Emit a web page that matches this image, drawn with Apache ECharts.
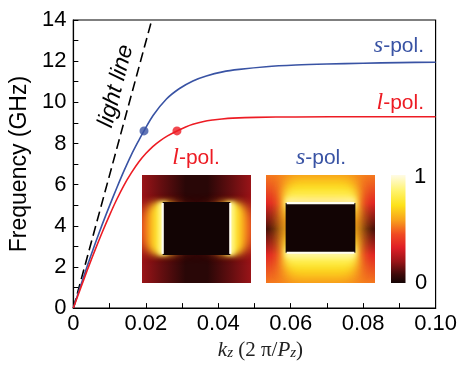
<!DOCTYPE html>
<html><head><meta charset="utf-8">
<script src="https://cdn.jsdelivr.net/npm/echarts@6/dist/echarts.min.js"></script>
<style>html,body{margin:0;padding:0;background:#fff}#c{width:460px;height:366px}</style>
</head><body><div id="c"></div>
<script>
// ---- data ----
const kzTicks = [0, 0.02, 0.04, 0.06, 0.08, 0.10];
const freqTicks = [0, 2, 4, 6, 8, 10, 12, 14];
const lightKz = [0, 0.02164];
const lightFreq = [0, 14];
const sPolKz = [0, 0.002, 0.004, 0.006, 0.008, 0.010, 0.012, 0.014, 0.016, 0.018, 0.0195, 0.022, 0.0257, 0.0293, 0.033, 0.0367, 0.0412, 0.0458, 0.0532, 0.0614, 0.07, 0.08, 0.09, 0.1];
const sPolFreq = [0, 1.09, 2.13, 3.13, 4.08, 4.98, 5.85, 6.68, 7.45, 8.13, 8.61, 9.36, 10.16, 10.67, 11.04, 11.28, 11.48, 11.6, 11.73, 11.81, 11.86, 11.9, 11.93, 11.95];
const lPolKz = [0, 0.002, 0.004, 0.006, 0.008, 0.010, 0.012, 0.014, 0.016, 0.018, 0.020, 0.022, 0.024, 0.026, 0.0286, 0.031, 0.033, 0.036, 0.0385, 0.041, 0.044, 0.0504, 0.0614, 0.08, 0.1];
const lPolFreq = [0, 0.97, 1.92, 2.83, 3.70, 4.52, 5.29, 5.98, 6.57, 7.09, 7.51, 7.86, 8.14, 8.37, 8.61, 8.80, 8.93, 9.07, 9.14, 9.19, 9.23, 9.27, 9.29, 9.30, 9.30];
const markerKz = [0.0195, 0.0286];
const markerFreq = [8.61, 8.61];
const colorbarLabels = ['1', '0'];
// conductor outlines inside the two field maps (normalized x0,y0,x1,y1)
const lPolConductor = [0.19, 0.25, 0.81, 0.74];
const sPolConductor = [0.18, 0.26, 0.82, 0.72];

// ---- style ----
const BLUE = '#3953a4', RED = '#ed1c24';
const HOT = [[0,'#140404'],[0.08,'#3e0a0a'],[0.2,'#9a1418'],[0.33,'#e01f26'],[0.45,'#f04a22'],[0.58,'#f8a01c'],[0.72,'#fde21a'],[0.85,'#fff36a'],[1,'#fffbe6']];
function hx(c){return [parseInt(c.slice(1,3),16),parseInt(c.slice(3,5),16),parseInt(c.slice(5,7),16)];}
function hot(v){
  v = Math.max(0, Math.min(1, v));
  for (let i = 1; i < HOT.length; i++) {
    if (v <= HOT[i][0]) {
      const a = HOT[i-1], b = HOT[i], t = (v - a[0]) / (b[0] - a[0]);
      const ca = hx(a[1]), cb = hx(b[1]);
      return 'rgb(' + ca.map((x, k) => Math.round(x + (cb[k] - x) * t)).join(',') + ')';
    }
  }
  return HOT[HOT.length-1][1];
}
function grad(x, y, x2, y2, stops){
  return {type:'linear', x, y, x2, y2, colorStops: stops.map(s => ({offset:s[0], color:hot(s[1])}))};
}
const OFF = 3000;
function glow(x1, y1, x2, y2, v, w, blur){
  return {type:'line', shape:{x1:x1+OFF, y1, x2:x2+OFF, y2},
    style:{stroke:hot(v), lineWidth:w, lineCap:'butt', shadowBlur:blur, shadowColor:hot(v), shadowOffsetX:-OFF}};
}
function renderL(params){
  const cs = params.coordSys;
  const X = u => cs.x + u * cs.width, Y = v => cs.y + v * cs.height;
  const c = lPolConductor;
  const ch = [{type:'rect', shape:{x:cs.x, y:cs.y, width:cs.width, height:cs.height},
    style:{fill:grad(0,0,1,0,[[0,0.2],[0.18,0.13],[0.4,0.04],[0.6,0.04],[0.82,0.13],[1,0.2]])}}];
  const layers = [[0.36,58,20,14],[0.5,42,14,8],[0.63,30,10,4],[0.76,18,7,1],[0.9,8,4,0]];
  [c[0], c[2]].forEach(fx => layers.forEach(L =>
    ch.push(glow(X(fx), Y(c[1]) + L[3], X(fx), Y(c[3]) - L[3], L[0], L[1], L[2]))));
  ch.push({type:'rect', shape:{x:X(c[0]), y:Y(c[1]), width:X(c[2])-X(c[0]), height:Y(c[3])-Y(c[1])}, style:{fill:'#120404'}});
  [c[0], c[2]].forEach(fx => ch.push({type:'line', shape:{x1:X(fx), y1:Y(c[1])+1, x2:X(fx), y2:Y(c[3])-1}, style:{stroke:'#fffdf0', lineWidth:2.2}}));
  return {type:'group', children:ch};
}
function renderS(params){
  const cs = params.coordSys;
  const X = u => cs.x + u * cs.width, Y = v => cs.y + v * cs.height;
  const c = sPolConductor;
  const ch = [{type:'rect', shape:{x:cs.x, y:cs.y, width:cs.width, height:cs.height},
    style:{fill:grad(0,0,0,1,[[0,0.52],[0.26,0.34],[0.5,0.08],[0.74,0.34],[1,0.52]])}}];
  const layers = [[0.55,76,22,0],[0.65,56,16,0],[0.74,38,12,0],[0.84,21,8,0],[0.92,9,5,0]];
  [c[1], c[3]].forEach(fy => layers.forEach(L =>
    ch.push(glow(X(c[0]) + L[3], Y(fy), X(c[2]) - L[3], Y(fy), L[0], L[1], L[2]))));
  ch.push({type:'rect', shape:{x:X(c[0]), y:Y(c[1]), width:X(c[2])-X(c[0]), height:Y(c[3])-Y(c[1])}, style:{fill:'#120404'}});
  [c[1], c[3]].forEach(fy => ch.push({type:'line', shape:{x1:X(c[0])+1, y1:Y(fy), x2:X(c[2])-1, y2:Y(fy)}, style:{stroke:'#fffdf0', lineWidth:2.2}}));
  return {type:'group', children:ch};
}

const zip = (a, b) => a.map((v, i) => [v, b[i]]);
const FONT = 'Liberation Sans';
const SERIF = 'Liberation Serif';
function polLabel(letter, color, serifSize, sansSize){
  return {text:'{i|' + letter + '}{t|-pol.}',
    rich:{i:{fontFamily:SERIF, fontStyle:'italic', fontSize:serifSize, fill:color},
          t:{fontFamily:FONT, fontSize:sansSize, fill:color}}};
}

const chart = echarts.init(document.getElementById('c'), null, {renderer:'canvas'});
chart.setOption({
  animation:false,
  backgroundColor:'#fff',
  grid:[
    {left:73, right:23, top:20, bottom:54, show:true, borderColor:'#000', borderWidth:1.2},
    {left:142, top:175, width:109, height:108},
    {left:266, top:175, width:109, height:108}
  ],
  xAxis:[
    {type:'value', gridIndex:0, min:0, max:0.1, interval:0.02,
     axisLine:{show:true, lineStyle:{color:'#000', width:1.2}},
     axisTick:{show:true, inside:true, length:5, lineStyle:{color:'#000'}},
     minorTick:{show:true, splitNumber:2, length:5, lineStyle:{color:'#000'}},
     splitLine:{show:false},
     axisLabel:{fontFamily:FONT, fontSize:22, color:'#000', margin:5,
       formatter:v => { const t = kzTicks.find(k => Math.abs(k - v) < 1e-9); return t === 0 ? '0' : t.toFixed(2); }},
     name:'{k|k}{z|z}{n| (2 π/}{k|P}{z|z}{n|)}', nameLocation:'middle', nameGap:28,
     nameTextStyle:{padding:[0,0,0,12], rich:{
       k:{fontFamily:SERIF, fontStyle:'italic', fontSize:21, color:'#222', verticalAlign:'bottom'},
       z:{fontFamily:SERIF, fontStyle:'italic', fontSize:15, color:'#222', verticalAlign:'bottom'},
       n:{fontFamily:SERIF, fontSize:21, color:'#222', verticalAlign:'bottom'}}}},
    {type:'value', gridIndex:1, min:0, max:1, show:false},
    {type:'value', gridIndex:2, min:0, max:1, show:false}
  ],
  yAxis:[
    {type:'value', gridIndex:0, min:0, max:14, interval:2,
     axisLine:{show:true, lineStyle:{color:'#000', width:1.2}},
     axisTick:{show:true, inside:true, length:5, lineStyle:{color:'#000'}},
     minorTick:{show:true, splitNumber:2, length:5, lineStyle:{color:'#000'}},
     splitLine:{show:false},
     axisLabel:{fontFamily:FONT, fontSize:22, color:'#000', margin:7,
       formatter:v => String(freqTicks.find(k => Math.abs(k - v) < 1e-9))},
     name:'Frequency (GHz)', nameLocation:'middle', nameGap:31,
     nameTextStyle:{fontFamily:FONT, fontSize:23, color:'#000'}},
    {type:'value', gridIndex:1, min:0, max:1, show:false},
    {type:'value', gridIndex:2, min:0, max:1, show:false}
  ],
  series:[
    {type:'line', name:'light line', data:zip(lightKz, lightFreq), symbol:'none',
     lineStyle:{color:'#000', width:1.6, type:[10,5]}},
    {type:'line', name:'s-pol.', data:zip(sPolKz, sPolFreq), symbol:'none', smooth:0.3,
     lineStyle:{color:BLUE, width:1.6}},
    {type:'line', name:'l-pol.', data:zip(lPolKz, lPolFreq), symbol:'none', smooth:0.3,
     lineStyle:{color:RED, width:1.6}},
    {type:'scatter', data:[[markerKz[0], markerFreq[0]]], symbolSize:9, itemStyle:{color:BLUE}, z:5},
    {type:'scatter', data:[[markerKz[1], markerFreq[1]]], symbolSize:9, itemStyle:{color:RED}, z:5},
    {type:'custom', xAxisIndex:1, yAxisIndex:1, data:[[0.5,0.5]], clip:true, renderItem:renderL, silent:true},
    {type:'custom', xAxisIndex:2, yAxisIndex:2, data:[[0.5,0.5]], clip:true, renderItem:renderS, silent:true}
  ],
  graphic:[
    {type:'text', x:424, y:46, silent:true, style:Object.assign(polLabel('s', BLUE, 24, 21), {align:'right', verticalAlign:'middle'})},
    {type:'text', x:424, y:103, silent:true, style:Object.assign(polLabel('l', RED, 24, 21), {align:'right', verticalAlign:'middle'})},
    {type:'text', x:196, y:158, silent:true, style:Object.assign(polLabel('l', RED, 24, 21), {align:'center', verticalAlign:'middle'})},
    {type:'text', x:321, y:158, silent:true, style:Object.assign(polLabel('s', BLUE, 24, 21), {align:'center', verticalAlign:'middle'})},
    {type:'text', x:116, y:86, rotation:75.5*Math.PI/180, silent:true,
     style:{text:'light line', fontFamily:FONT, fontStyle:'italic', fontSize:23, fill:'#000', align:'center', verticalAlign:'middle'}},
    {type:'rect', silent:true, shape:{x:391, y:175, width:14.5, height:108},
     style:{fill:{type:'linear', x:0, y:1, x2:0, y2:0, colorStops:HOT.map(s => ({offset:s[0], color:s[1]}))}}},
    {type:'text', x:420, y:177, silent:true, style:{text:colorbarLabels[0], fontFamily:FONT, fontSize:22, fill:'#000', align:'center', verticalAlign:'middle'}},
    {type:'text', x:421, y:283, silent:true, style:{text:colorbarLabels[1], fontFamily:FONT, fontSize:22, fill:'#000', align:'center', verticalAlign:'middle'}}
  ]
});
</script></body></html>
